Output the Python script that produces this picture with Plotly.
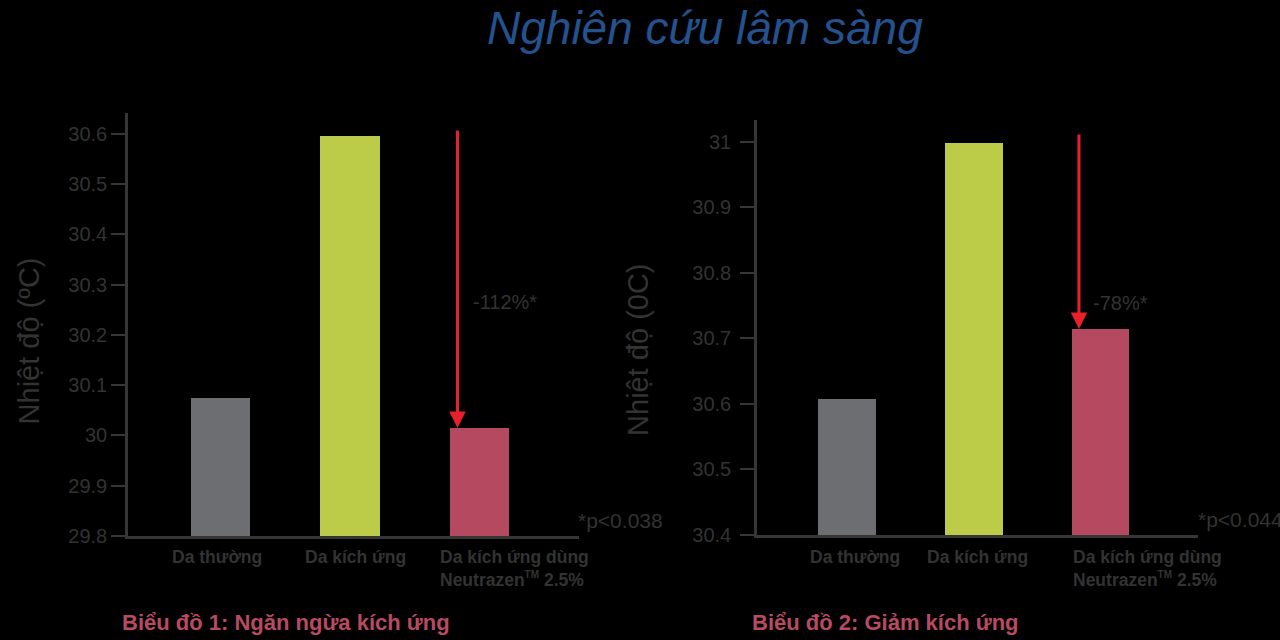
import plotly.graph_objects as go

# ---- data ----
categories = ["Da thường", "Da kích ứng", "Da kích ứng dùng"]
category_labels = ["Da thường", "Da kích ứng",
                   "Da kích ứng dùng<br>Neutrazen<sup><span style='font-size:10px'>TM</span></sup> 2.5%"]
chart1_values = [30.075, 30.596, 30.015]
chart2_values = [30.607, 30.998, 30.714]
chart1_ticks = [29.8, 29.9, 30.0, 30.1, 30.2, 30.3, 30.4, 30.5, 30.6]
chart2_ticks = [30.4, 30.5, 30.6, 30.7, 30.8, 30.9, 31.0]
chart1_change = "-112%*"
chart2_change = "-78%*"
chart1_pvalue = "*p&lt;0.038"
chart2_pvalue = "*p&lt;0.044"
arrow_start = [30.61, 31.013]
title_text = "Nghiên cứu lâm sàng"
chart1_caption = "Biểu đồ 1: Ngăn ngừa kích ứng"
chart2_caption = "Biểu đồ 2: Giảm kích ứng"
ytitle1 = "Nhiệt độ (ºC)"
ytitle2 = "Nhiệt độ (0C)"

# ---- style ----
bar_colors = ["#6d6e71", "#bdcc48", "#b5495f"]
axis_color = "#363636"
text_color = "#333333"
caption_color = "#b84a62"
arrow_color = "#e8202a"
FONT = "Liberation Sans, Arial, Helvetica, sans-serif"
W, H = 1280, 640
VS = 1 / 0.983  # vertical compensation for the capture


def py(px):
    """paper y fraction for a target pixel row"""
    return 1 - (px * VS) / H


fig = go.Figure()
fig.add_trace(go.Bar(x=categories, y=chart1_values, marker_color=bar_colors,
                     marker_line_width=0, width=0.456, xaxis="x", yaxis="y",
                     showlegend=False, hoverinfo="skip"))
fig.add_trace(go.Bar(x=categories, y=chart2_values, marker_color=bar_colors,
                     marker_line_width=0, width=0.454, xaxis="x2", yaxis="y2",
                     showlegend=False, hoverinfo="skip"))

common_x = dict(type="category", showline=True, linecolor=axis_color, linewidth=2.5,
                showticklabels=False, ticks="", showgrid=False, zeroline=False, fixedrange=True)
common_y = dict(showline=True, linecolor=axis_color, linewidth=2.5, ticks="outside",
                ticklen=14, tickwidth=2, tickcolor=axis_color, showgrid=False, zeroline=False,
                tickfont=dict(family=FONT, size=20, color=text_color), fixedrange=True)

fig.update_layout(
    width=W, height=H, autosize=False,
    paper_bgcolor="black", plot_bgcolor="black",
    margin=dict(l=0, r=0, t=0, b=0),
    font=dict(family=FONT, color=text_color),
    bargap=0,
    xaxis=dict(domain=[128 / W, 579 / W], range=[-0.714, 2.768], anchor="y", **common_x),
    yaxis=dict(domain=[py(536), py(112.7)], range=[29.8, 30.6424], anchor="x",
               tickvals=chart1_ticks, ticktext=[f"{v:g}" for v in chart1_ticks],
               ticklabelstandoff=0, **common_y),
    xaxis2=dict(domain=[757 / W, 1198 / W], range=[-0.710, 2.769], anchor="y2", **common_x),
    yaxis2=dict(domain=[py(535), py(120)], range=[30.4, 31.033], anchor="x2",
                tickvals=chart2_ticks, ticktext=[f"{v:g}" for v in chart2_ticks],
                ticklabelstandoff=5, **common_y),
)

ann = []
# title
ann.append(dict(text=f"<i>{title_text}</i>", x=705 / W, y=py(28), xref="paper", yref="paper",
                xanchor="center", yanchor="middle", showarrow=False,
                font=dict(family=FONT, size=46, color="#23528e")))
# y titles
ann.append(dict(text=ytitle1, x=28.5 / W, y=py(341), xref="paper", yref="paper",
                textangle=-90, showarrow=False, xanchor="center", yanchor="middle",
                font=dict(family=FONT, size=29, color=text_color)))
ann.append(dict(text=ytitle2, x=638 / W, y=py(350), xref="paper", yref="paper",
                textangle=-90, showarrow=False, xanchor="center", yanchor="middle",
                font=dict(family=FONT, size=29, color=text_color)))

# category labels
label_shift = [[-3, 5, -41.5], [7.5, 3.5, -29.5]]
for ci, xr in enumerate(["x", "x2"]):
    for i, (cat, lab) in enumerate(zip(categories, category_labels)):
        ann.append(dict(text=f"<b>{lab}</b>", x=cat, xref=xr, y=py(545), yref="paper",
                        xanchor="left" if i == 2 else "center", yanchor="top", align="left",
                        xshift=label_shift[ci][i], showarrow=False,
                        font=dict(family=FONT, size=17.5, color=text_color)))

# arrows
for xr, yr, start, tip in [("x", "y", arrow_start[0], chart1_values[2]),
                           ("x2", "y2", arrow_start[1], chart2_values[2])]:
    ann.append(dict(text="", x=1.83, y=tip, xref=xr, yref=yr, ax=1.83, ay=start,
                    axref=xr, ayref=yr, showarrow=True, arrowhead=2, arrowsize=1.1,
                    arrowwidth=3, arrowcolor=arrow_color, standoff=0, startstandoff=0))

# change labels
ann.append(dict(text=chart1_change, x=505 / W, y=py(302), xref="paper", yref="paper",
                showarrow=False, xanchor="center", yanchor="middle",
                font=dict(family=FONT, size=20, color=text_color)))
ann.append(dict(text=chart2_change, x=1120 / W, y=py(303), xref="paper", yref="paper",
                showarrow=False, xanchor="center", yanchor="middle",
                font=dict(family=FONT, size=20, color=text_color)))
# p-values
ann.append(dict(text=chart1_pvalue, x=576 / W, y=py(521), xref="paper", yref="paper",
                showarrow=False, xanchor="left", yanchor="middle",
                font=dict(family=FONT, size=21, color=text_color)))
ann.append(dict(text=chart2_pvalue, x=1196 / W, y=py(520), xref="paper", yref="paper",
                showarrow=False, xanchor="left", yanchor="middle",
                font=dict(family=FONT, size=21, color=text_color)))
# captions
ann.append(dict(text=f"<b>{chart1_caption}</b>", x=286 / W, y=py(623), xref="paper",
                yref="paper", showarrow=False, xanchor="center", yanchor="middle",
                font=dict(family=FONT, size=22, color=caption_color)))
ann.append(dict(text=f"<b>{chart2_caption}</b>", x=885 / W, y=py(623), xref="paper",
                yref="paper", showarrow=False, xanchor="center", yanchor="middle",
                font=dict(family=FONT, size=22, color=caption_color)))

fig.update_layout(annotations=ann)
fig.write_html(
    "out.html",
    config={"displayModeBar": False, "responsive": False},
    post_script=(
        "document.documentElement.style.margin='0';document.documentElement.style.padding='0';"
        "document.documentElement.style.overflow='hidden';document.documentElement.style.background='black';"
        "document.body.style.margin='0';document.body.style.padding='0';"
        "document.body.style.overflow='hidden';document.body.style.background='black';"
        "var gd=document.getElementById('{plot_id}');"
        "gd.style.position='fixed';gd.style.left='0px';gd.style.top='0px';"
    ),
)
